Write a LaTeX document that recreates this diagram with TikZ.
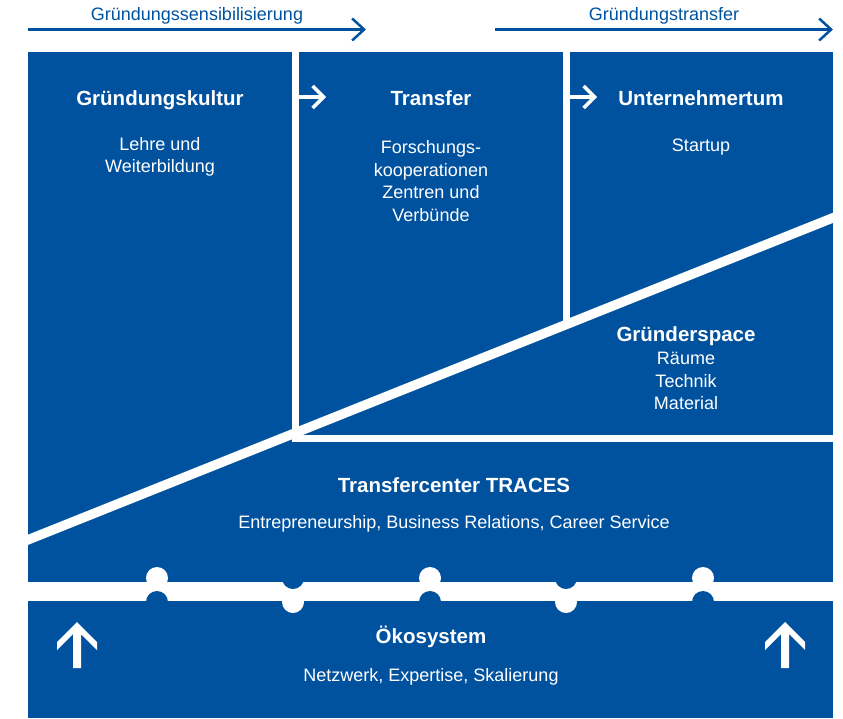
\documentclass[tikz,border=0pt]{standalone}
\usepackage{fontspec}
\setmainfont{Liberation Sans}
\usetikzlibrary{arrows.meta}
\definecolor{hsblue}{RGB}{0,82,159}

\tikzset{
    heading/.style={text=white, font=\bfseries\fontsize{20.5}{24}\selectfont, align=center},
    bodytext/.style={text=white, font=\fontsize{18}{22.5}\selectfont, align=center},
    phase/.style={text=hsblue, font=\fontsize{18}{22}\selectfont},
    divider/.style={white, line width=7pt},
    phasearrow/.style={hsblue, line width=2.5pt, -{Straight Barb[length=12pt,width=22pt]}},
    steparrow/.style={white, line width=3.5pt, -{Straight Barb[length=11pt,width=22pt]}},
}

\begin{document}
\begin{tikzpicture}[x=1pt,y=-1pt]
    \useasboundingbox(0,0)rectangle(843,718);

    % blocks
    \fill[hsblue](28,52)rectangle(833,582);
    \fill[hsblue](28,601)rectangle(833,718);

    % puzzle joints
    \foreach \x in {157,430,703}{
        \fill[white](\x,578)circle[radius=11pt];
        \fill[hsblue](\x,602)circle[radius=11pt];
    }
    \foreach \x in {293,566}{
        \fill[hsblue](\x,578)circle[radius=11pt];
        \fill[white](\x,602)circle[radius=11pt];
    }

    % dividers
    \draw[divider](295.5,48)--(295.5,438);
    \draw[divider](566.5,48)--(566.5,326);
    \draw[divider](292,438)--(840,438);
    \draw[divider,line width=9.5pt](20,543)--(840,215);

    % phases
    \coordinate(sensA)at(28,29.5);
    \coordinate(sensB)at(366,29.5);
    \coordinate(transA)at(495,29.5);
    \coordinate(transB)at(833,29.5);
    \draw[phasearrow](sensA)--(sensB);
    \draw[phasearrow](transA)--(transB);
    \node[phase,anchor=base](sens)at(197,20){Gründungssensibilisierung};
    \node[phase,anchor=base](trans)at(664,20){Gründungstransfer};

    % columns
    \node[heading,anchor=base](kultur)at(160,105){Gründungskultur};
    \node[bodytext](kulturtxt)at(160,157){Lehre und\\Weiterbildung};

    \node[heading,anchor=base](transfer)at(431,105){Transfer};
    \node[bodytext](transfertxt)at(431,181){Forschungs-\\kooperationen\\Zentren und\\Verbünde};

    \node[heading,anchor=base](unternehmer)at(701,105){Unternehmertum};
    \node[bodytext](unternehmertxt)at(701,147){Startup};

    \coordinate(stepA)at(298,97);
    \coordinate(stepB)at(326,97);
    \coordinate(stepC)at(569,97);
    \coordinate(stepD)at(597,97);
    \draw[steparrow](stepA)--(stepB);
    \draw[steparrow](stepC)--(stepD);

    \node[heading,anchor=base](space)at(686,341){Gründerspace};
    \node[bodytext](spacetxt)at(686,381){Räume\\Technik\\Material};

    \node[heading,anchor=base](traces)at(454,492){Transfercenter TRACES};
    \node[bodytext](tracestxt)at(454,524){Entrepreneurship, Business Relations, Career Service};

    \node[heading,anchor=base](oeko)at(431,643){Ökosystem};
    \node[bodytext](oekotxt)at(431,677){Netzwerk, Expertise, Skalierung};

    % up arrows
    \foreach \x in {77,785}{
        \fill[white](\x,622)--++(20,20)--++(0,8)--++(-16,-16)--++(0,34)--++(-8,0)
            --++(0,-34)--++(-16,16)--++(0,-8)--cycle;
    }
\end{tikzpicture}
\end{document}
